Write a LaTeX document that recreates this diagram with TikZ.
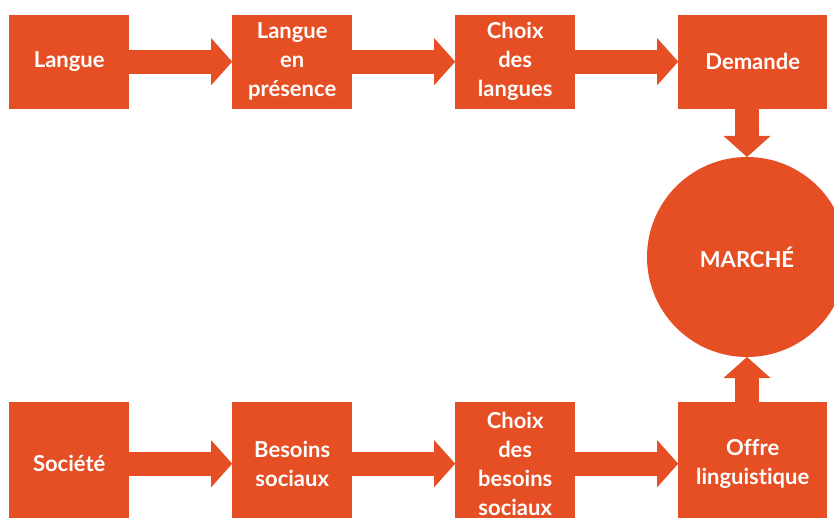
\documentclass[tikz,border=0pt]{standalone}
\usepackage{fontspec}
\setmainfont{Lato}[Ligatures=NoCommon]
\usetikzlibrary{arrows.meta,matrix,positioning}
\definecolor{orangemarche}{RGB}{230,78,36}

\begin{document}
\begin{tikzpicture}[x=1pt,y=1pt,
  box/.style={fill=orangemarche,text=white,anchor=center,align=center,
    font=\bfseries\fontsize{22}{29}\selectfont,inner sep=0pt,outer sep=0pt,
    minimum width=120pt},
  widebox/.style={box,minimum width=149pt},
  fleche/.style={draw=orangemarche,line width=24pt,
    -{Triangle[width=47pt,length=21pt,line width=0pt]}}]
\useasboundingbox (0,0) rectangle (834,-518);
\clip (0,0) rectangle (834,-518);
\matrix [row sep=293pt,column sep=103pt,inner sep=0pt,anchor=north west,
  ampersand replacement=\&,
  row 1/.style={nodes={minimum height=94pt}},
  row 2/.style={nodes={minimum height=124pt}}] at (9,-14.5)
{
\node[box] (Langue) {Langue}; \& \node[box] (Presence) {Langue\\en\\présence}; \&
\node[box] (ChoixLangues) {Choix\\des\\langues}; \& \node[widebox] (Demande) {Demande}; \\
\node[box] (Societe) {Société}; \& \node[box] (Besoins) {Besoins\\sociaux}; \&
\node[box] (ChoixBesoins) {Choix\\des\\besoins\\sociaux}; \& \node[widebox] (Offre) {Offre\\linguistique}; \\
};
\node [circle,fill=orangemarche,text=white,minimum size=200pt,inner sep=0pt,
  outer sep=0pt,font=\bfseries\fontsize{22}{29}\selectfont] (Marche)
  at (747,-257) {MARCHÉ};
\draw[fleche] (Langue) -- (Presence);
\draw[fleche] (Presence) -- (ChoixLangues);
\draw[fleche] (ChoixLangues) -- (Demande);
\draw[fleche] (Societe) -- (Besoins);
\draw[fleche] (Besoins) -- (ChoixBesoins);
\draw[fleche] (ChoixBesoins) -- (Offre);
\draw[fleche] (Demande.south -| Marche) -- (Marche.north);
\draw[fleche] (Offre.north -| Marche) -- (Marche.south);
\end{tikzpicture}
\end{document}
